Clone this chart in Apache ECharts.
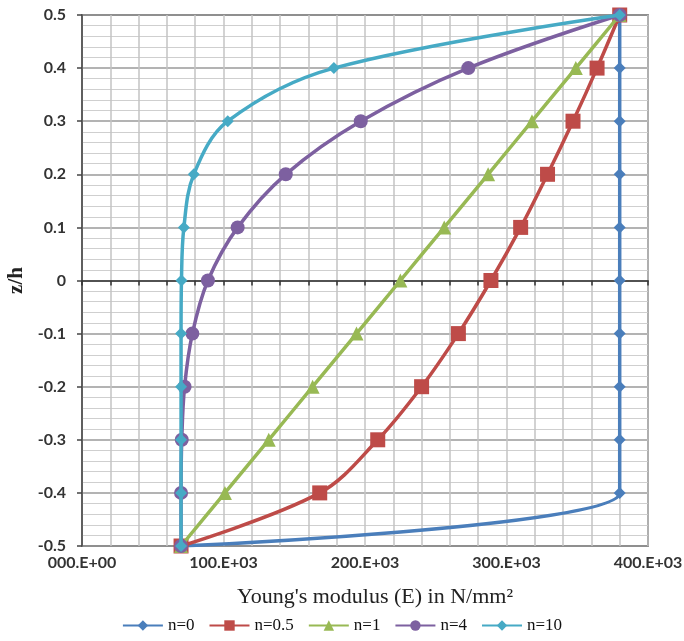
<!DOCTYPE html>
<html><head><meta charset="utf-8">
<script src="https://cdn.jsdelivr.net/npm/echarts@6/dist/echarts.min.js"></script>
<style>html,body{margin:0;padding:0;background:#fff}#c{width:684px;height:641px}</style>
</head><body><div id="c"></div>
<script>
// z/h positions
const zVals = [-0.5, -0.4, -0.3, -0.2, -0.1, 0, 0.1, 0.2, 0.3, 0.4, 0.5];
// Young's modulus (x 10^3 N/mm^2)
const eN0   = [70, 380, 380, 380, 380, 380, 380, 380, 380, 380, 380];
const eN05  = [70, 168, 209, 240, 266, 289, 310, 329, 347, 364, 380];
const eN1   = [70, 101, 132, 163, 194, 225, 256, 287, 318, 349, 380];
const eN4   = [70, 70, 70.5, 72.5, 78, 89, 110, 144, 197, 273, 380];
const eN10  = [70, 70, 70, 70, 70, 70.3, 72, 79, 103, 178, 380];
const seriesNames = ['n=0', 'n=0.5', 'n=1', 'n=4', 'n=10'];
const xTickLabels = {0: '000.E+00', 100: '100.E+03', 200: '200.E+03', 300: '300.E+03', 400: '400.E+03'};

const colors = ['#4A7EBB', '#BE4B48', '#98B954', '#7D60A0', '#46AAC5'];
const symbols = ['diamond', 'rect', 'triangle', 'circle', 'diamond'];
const symSizes = [12, 15, 14, 14, 12];
const allE = [eN0, eN05, eN1, eN4, eN10];

const series = allE.map((arr, i) => ({
  name: seriesNames[i],
  type: 'line',
  xAxisIndex: 0, yAxisIndex: 0,
  smooth: 0.35,
  data: arr.map((e, k) => [e, zVals[k]]),
  symbol: symbols[i],
  symbolSize: symSizes[i],
  lineStyle: {width: 3.5, color: colors[i]},
  itemStyle: {color: colors[i]},
  z: 3 + i
}));

const chart = echarts.init(document.getElementById('c'), null, {renderer: 'canvas'});
chart.setOption({
  animation: false,
  backgroundColor: '#fff',
  grid: {left: 82, right: 36, top: 15, bottom: 95, containLabel: false, outerBoundsMode: 'none',
    show: true, borderColor: '#444', borderWidth: 1.5, backgroundColor: 'transparent'},
  legend: {
    bottom: 2, left: 'center', itemWidth: 40, itemHeight: 13, itemGap: 14,
    textStyle: {fontFamily: 'Liberation Serif', fontSize: 17, color: '#111'},
    data: seriesNames
  },
  xAxis: [{
    type: 'value', min: 0, max: 400, interval: 100,
    name: "Young's modulus (E) in N/mm\u00B2", nameLocation: 'middle', nameGap: 40,
    nameTextStyle: {fontFamily: 'Liberation Serif', fontSize: 22, color: '#222', padding: [0, 0, 0, 20]},
    axisLine: {show: false, onZero: false},
    axisTick: {show: false},
    axisLabel: {formatter: v => xTickLabels[v], fontFamily: 'Lato', fontWeight: 'bold', fontSize: 16, color: '#333', margin: 9},
    splitLine: {show: true, lineStyle: {color: '#c4c4c4', width: 1.5}},
    minorTick: {show: false, splitNumber: 5},
    minorSplitLine: {show: true, lineStyle: {color: '#c4c4c4', width: 1.5}}
  }, {
    type: 'value', min: 0, max: 400, interval: 20, position: 'bottom',
    axisLine: {show: true, onZero: true, lineStyle: {color: '#333', width: 1.5}},
    axisTick: {show: true, length: 5, lineStyle: {color: '#333', width: 1.5}},
    axisLabel: {show: false},
    splitLine: {show: false}
  }],
  yAxis: [{
    type: 'value', min: -0.5, max: 0.5, interval: 0.1,
    name: 'z/h', nameLocation: 'middle', nameGap: 54,
    nameTextStyle: {fontFamily: 'Liberation Serif', fontWeight: 'bold', fontSize: 21, color: '#222'},
    axisLine: {show: true, onZero: false, lineStyle: {color: '#444', width: 1.5}},
    axisTick: {show: true, length: 5, lineStyle: {color: '#444', width: 1.5}},
    axisLabel: {formatter: v => String(Math.round(v * 10) / 10), fontFamily: 'Lato', fontWeight: 'bold', fontSize: 16, color: '#333', margin: 16},
    splitLine: {show: true, lineStyle: {color: '#9a9a9a', width: 1.5}},
    minorTick: {show: false, splitNumber: 5},
    minorSplitLine: {show: true, lineStyle: {color: '#cfcfcf', width: 1.2}}
  }],
  series: series
});
</script></body></html>
